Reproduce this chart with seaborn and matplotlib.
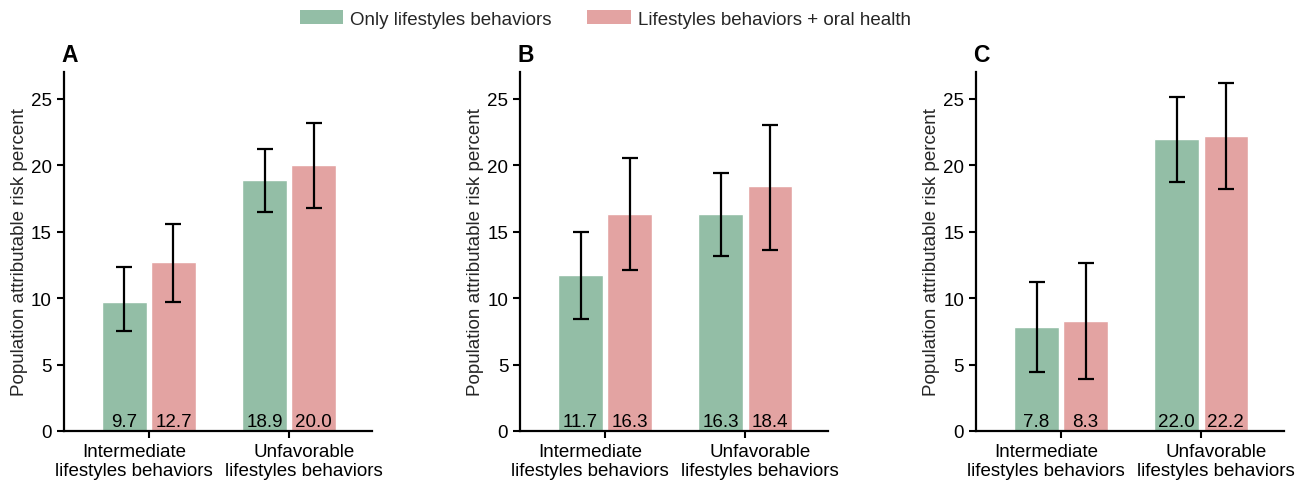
import matplotlib
matplotlib.use("Agg")
import matplotlib.pyplot as plt
import matplotlib.transforms as mtransforms
from matplotlib.patches import Patch
import seaborn as sns
import pandas as pd

sns.set_style("ticks")
plt.rcParams['font.family'] = ['Liberation Sans', 'DejaVu Sans']

categories = ["Intermediate\nlifestyles behaviors", "Unfavorable\nlifestyles behaviors"]
series = ["Only lifestyles behaviors", "Lifestyles behaviors + oral health"]
panels = ["A", "B", "C"]

A_only = [9.7, 18.9]
A_oral = [12.7, 20.0]
B_only = [11.7, 16.3]
B_oral = [16.3, 18.4]
C_only = [7.8, 22.0]
C_oral = [8.3, 22.2]

A_only_lo = [7.5, 16.5]
A_only_hi = [12.3, 21.2]
A_oral_lo = [9.7, 16.8]
A_oral_hi = [15.6, 23.2]
B_only_lo = [8.4, 13.2]
B_only_hi = [15.0, 19.4]
B_oral_lo = [12.1, 13.6]
B_oral_hi = [20.5, 23.0]
C_only_lo = [4.4, 18.7]
C_only_hi = [11.2, 25.1]
C_oral_lo = [3.9, 18.2]
C_oral_hi = [12.6, 26.2]

data = {
    "A": (A_only, A_oral, A_only_lo, A_only_hi, A_oral_lo, A_oral_hi),
    "B": (B_only, B_oral, B_only_lo, B_only_hi, B_oral_lo, B_oral_hi),
    "C": (C_only, C_oral, C_only_lo, C_only_hi, C_oral_lo, C_oral_hi),
}

colors = ["#93bea6", "#e3a3a2"]
FS = 13.5

fig = plt.figure(figsize=(13.02, 4.89), dpi=100)
lefts = [0.049, 0.3994, 0.7496]
for p, left in zip(panels, lefts):
    ax = fig.add_axes([left, 0.1166, 0.2366, 0.734])
    only, oral, olo, ohi, rlo, rhi = data[p]
    df = pd.DataFrame({
        "category": categories * 2,
        "series": [series[0]] * 2 + [series[1]] * 2,
        "value": only + oral,
        "lo": olo + rlo,
        "hi": ohi + rhi,
    })
    sns.barplot(data=df, x="category", y="value", hue="series", order=categories,
                hue_order=series, palette=colors, width=0.7, gap=0.09,
                errorbar=None, ax=ax, saturation=1, legend=False)
    bars = sorted([b for b in ax.patches if b.get_height() > 0], key=lambda b: b.get_x())
    rows = []
    for ci in range(2):
        for si in range(2):
            rows.append(df[(df.category == categories[ci]) & (df.series == series[si])].iloc[0])
    for b, row in zip(bars, rows):
        xc = b.get_x() + b.get_width() / 2
        v = row["value"]
        ax.errorbar(xc, v, yerr=[[v - row["lo"]], [row["hi"] - v]], fmt="none",
                    ecolor="black", elinewidth=1.6, capsize=6, capthick=1.6, zorder=5)
        ax.text(xc, 0.38, f"{v:.1f}", ha="center", va="baseline", fontsize=FS, color="black")
    ax.set_ylim(0, 27)
    ax.set_xlim(-0.607, 1.59)
    ax.set_yticks([0, 5, 10, 15, 20, 25])
    ax.set_xlabel("")
    ax.set_ylabel("Population attributable risk percent", fontsize=FS, labelpad=2.5)
    ax.tick_params(axis="both", labelsize=FS, width=1.5, length=5, color="black", labelcolor="black")
    for s in ["left", "bottom"]:
        ax.spines[s].set_linewidth(1.6)
        ax.spines[s].set_color("black")
    sns.despine(ax=ax)
    for lab, dx in zip(ax.get_xticklabels(), [-0.15, 0.15]):
        lab.set_transform(lab.get_transform() + mtransforms.ScaledTranslation(dx, 0, fig.dpi_scale_trans))
    ax.text(-0.008, 1.03, p, transform=ax.transAxes, fontsize=16.5, fontweight="bold",
            ha="left", va="baseline", color="black")

handles = [Patch(facecolor=c, edgecolor="none") for c in colors]
fig.legend(handles, series, loc="upper center", bbox_to_anchor=(0.465, 1.012), ncol=2,
           frameon=False, fontsize=FS,
           handlelength=2.3, handleheight=0.78, handletextpad=0.37, columnspacing=1.9)

fig.savefig("out.png", dpi=100)
